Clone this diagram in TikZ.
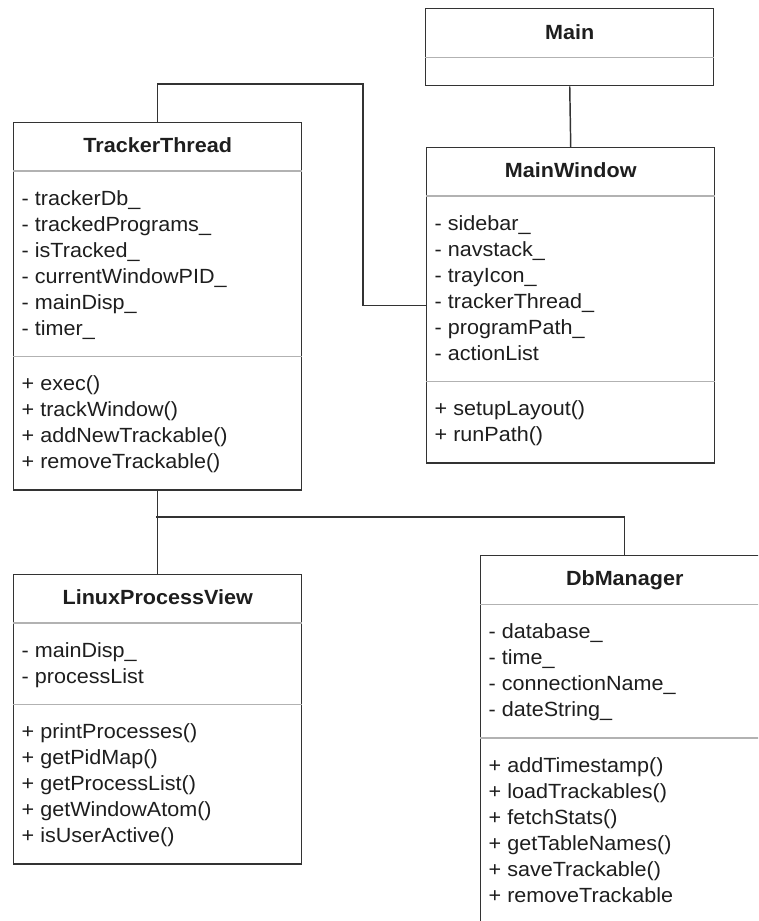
\documentclass[tikz,border=0pt]{standalone}
\usepackage{fontspec}
\setsansfont{Liberation Sans}[FakeStretch=1.05]
\usetikzlibrary{shapes}
\definecolor{linegrey}{RGB}{51,51,51}
\definecolor{splitgrey}{RGB}{178,178,178}
\definecolor{textgrey}{RGB}{30,30,30}
\newcommand{\umlrow}{\rule[-5pt]{0pt}{19.5pt}}
\newcommand{\umlhead}{\rule[-3pt]{0pt}{14.2pt}}
\newcommand{\umltail}{\rule[-12pt]{0pt}{0pt}}
\tikzset{
	umlnode/.style = {
		rectangle split,
		rectangle split draw splits=false,
		rectangle split part align={center,left,left},
		rectangle split empty part height=0pt,
		rectangle split empty part depth=0pt,
		font=\sffamily\fontsize{15.4}{19.5}\selectfont,
		text=textgrey,
		draw=linegrey,
		line width=1.1pt,
		fill=white,
		inner xsep=6pt,
		inner ysep=10.5pt,
		minimum width=216pt,
		anchor=north west
	},
	class_box/.style = {
		umlnode,
		align=left,
		rectangle split parts=3
	},
	class_empty/.style = {
		umlnode,
		inner ysep=7.9pt,
		rectangle split parts=2
	},
	class_split/.style = {
		draw=splitgrey,
		line width=1.1pt
	},
	assoc/.style = {
		draw=linegrey,
		line width=1.1pt
	},
}
\begin{document}
\begin{tikzpicture}[x=0.75pt, y=-0.75pt]
\useasboundingbox (0,0) rectangle (758,921);
\clip (0,0) rectangle (758,921);

\node [class_empty] (main) at (425,8) {\umlrow\textbf{Main}\nodepart{two}};
\node [class_box] (mainwin) at (426,147) {\umlhead\textbf{MainWindow}
	\nodepart{two}
	\umlrow- sidebar\_\\
	\umlrow- navstack\_\\
	\umlrow- trayIcon\_\\
	\umlrow- trackerThread\_\\
	\umlrow- programPath\_\\
	\umlrow- actionList
	\nodepart{three}
	\umlrow+ setupLayout()\\
	\umlrow+ runPath()
};
\node [class_box] (tracker) at (13,122) {\umlhead\textbf{TrackerThread}
	\nodepart{two}
	\umlrow- trackerDb\_\\
	\umlrow- trackedPrograms\_\\
	\umlrow- isTracked\_\\
	\umlrow- currentWindowPID\_\\
	\umlrow- mainDisp\_\\
	\umlrow- timer\_
	\nodepart{three}
	\umlrow+ exec()\\
	\umlrow+ trackWindow()\\
	\umlrow+ addNewTrackable()\\
	\umlrow+ removeTrackable()
};
\node [class_box] (procview) at (13,574) {\umlhead\textbf{LinuxProcessView}
	\nodepart{two}
	\umlrow- mainDisp\_\\
	\umlrow- processList
	\nodepart{three}
	\umlrow+ printProcesses()\\
	\umlrow+ getPidMap()\\
	\umlrow+ getProcessList()\\
	\umlrow+ getWindowAtom()\\
	\umlrow+ isUserActive()
};
\node [class_box] (dbman) at (480,555) {\umlhead\textbf{DbManager}
	\nodepart{two}
	\umlrow- database\_\\
	\umlrow- time\_\\
	\umlrow- connectionName\_\\
	\umlrow- dateString\_
	\nodepart{three}
	\umlrow+ addTimestamp()\\
	\umlrow+ loadTrackables()\\
	\umlrow+ fetchStats()\\
	\umlrow+ getTableNames()\\
	\umlrow+ saveTrackable()\\
	\umlrow+ removeTrackable\umltail
};

% compartment lines
\draw [class_split] (main.one split west) -- (main.one split east);
\foreach \cls in {mainwin, tracker, procview, dbman} {
	\draw [class_split] (\cls.one split west) -- (\cls.one split east);
	\draw [class_split] (\cls.two split west) -- (\cls.two split east);
}

% associations
\coordinate (elbow) at (363,84);
\coordinate (branch) at (156,517);
\draw [assoc] (main.south) -- (mainwin.north);
\draw [assoc] (tracker.north) |- (elbow) |- (mainwin.west);
\draw [assoc] (tracker.south) -- (procview.north);
\draw [assoc] (branch) -| (dbman.north);
\end{tikzpicture}
\end{document}
